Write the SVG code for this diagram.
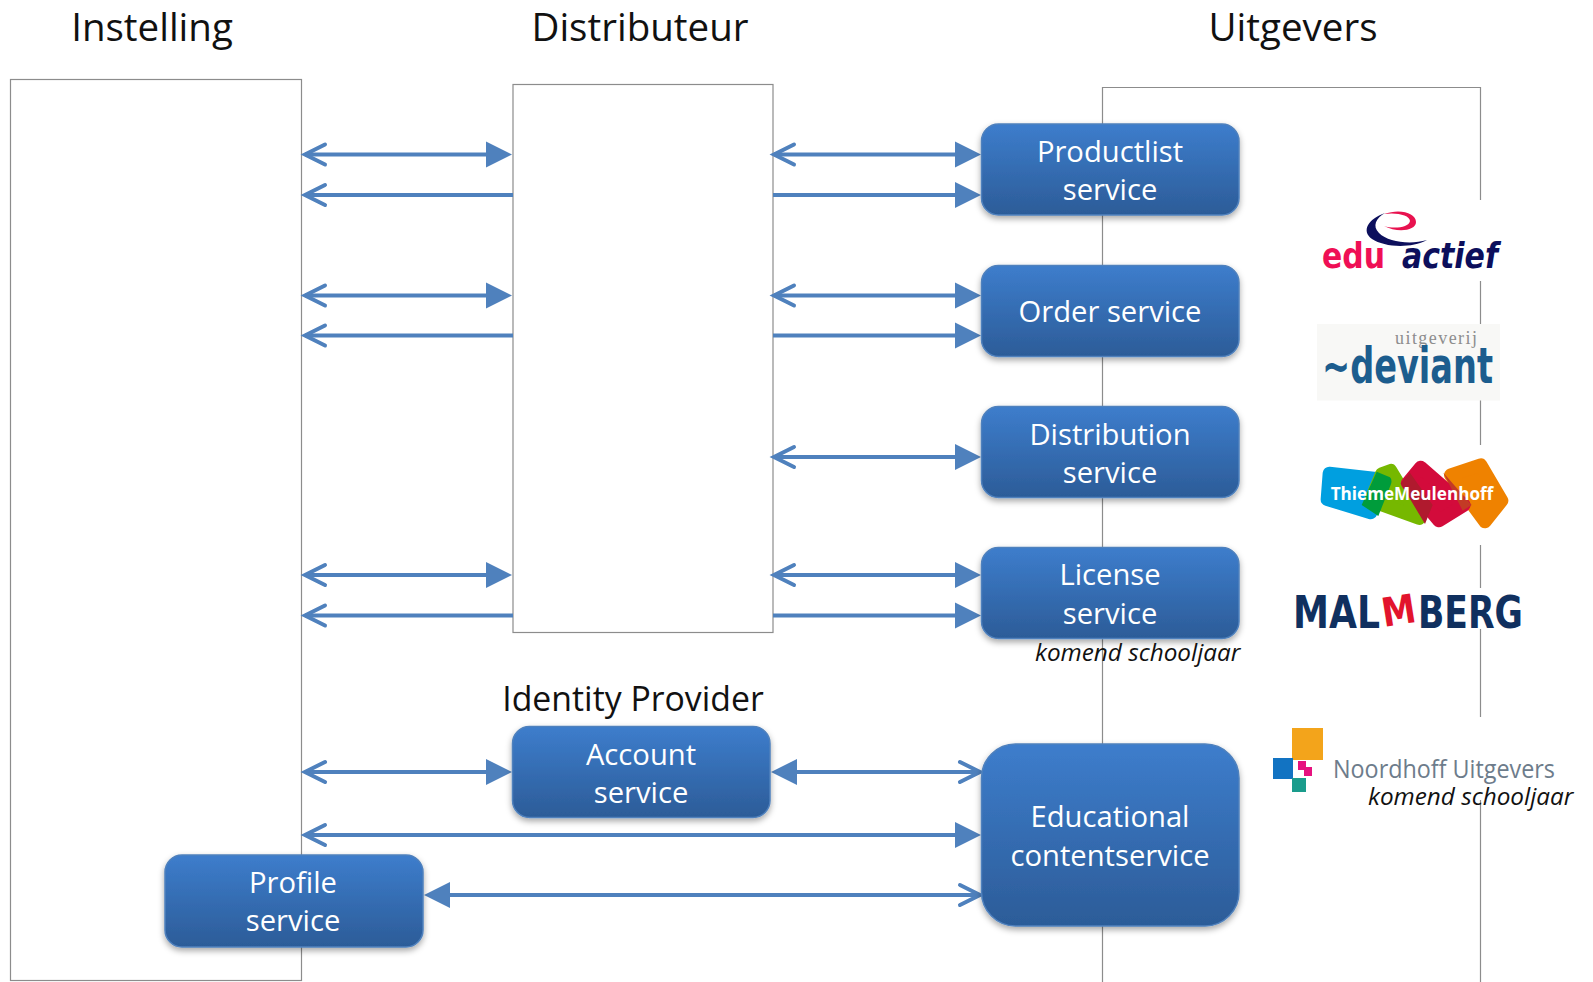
<svg xmlns="http://www.w3.org/2000/svg" width="1593" height="982" viewBox="0 0 1593 982">
<style>
.frame{fill:#fff;stroke:#8c8c8c;stroke-width:1.2}
.head{font-family:"Open Sans","Liberation Sans",sans-serif;font-size:38.500px;fill:#111;text-anchor:middle}
.box{fill:url(#boxGrad);stroke:#4f81bd;stroke-width:1.500;filter:url(#shadow)}
.lbl{font-family:"Open Sans","Liberation Sans",sans-serif;font-size:29.200px;fill:#fff;text-anchor:middle}
.note{font-family:"Open Sans","Liberation Sans",sans-serif;font-style:italic;font-size:24.300px;fill:#111}
.c{fill:none;stroke:#4f81bd;stroke-width:4}
.tt{marker-end:url(#tri)}
.oo{marker-end:url(#open)}
.ts{marker-start:url(#triS)}
.os{marker-start:url(#openS)}
</style>
<defs>
<linearGradient id="boxGrad" x1="0" y1="0" x2="0" y2="1"><stop offset="0" stop-color="#3d7dcc"/><stop offset="1" stop-color="#2c5c98"/></linearGradient>
<filter id="shadow" x="-10%" y="-10%" width="120%" height="125%"><feDropShadow dx="0" dy="3" stdDeviation="3" flood-color="#000" flood-opacity="0.35"/></filter>
<marker id="tri" markerUnits="userSpaceOnUse" markerWidth="30" markerHeight="30" refX="16" refY="13" orient="auto" overflow="visible"><path d="M0 0L26 13L0 26Z" fill="#4f81bd"/></marker>
<marker id="triS" markerUnits="userSpaceOnUse" markerWidth="30" markerHeight="30" refX="10" refY="13" orient="auto" overflow="visible"><path d="M26 0L0 13L26 26Z" fill="#4f81bd"/></marker>
<marker id="open" markerUnits="userSpaceOnUse" markerWidth="30" markerHeight="30" refX="21" refY="11" orient="auto" overflow="visible"><path d="M1 1L21 11L1 21" fill="none" stroke="#4f81bd" stroke-width="4" stroke-linecap="round"/></marker>
<marker id="openS" markerUnits="userSpaceOnUse" markerWidth="30" markerHeight="30" refX="1" refY="11" orient="auto" overflow="visible"><path d="M21 1L1 11L21 21" fill="none" stroke="#4f81bd" stroke-width="4" stroke-linecap="round"/></marker>
</defs>
<rect width="1593" height="982" fill="#fff"/>

<g id="instelling"><rect class="frame" x="10.500" y="79.500" width="291" height="901"/><text class="head" x="152" y="41">Instelling</text></g>
<g id="distributeur"><rect class="frame" x="513" y="84.500" width="260" height="548"/><text class="head" x="640" y="41">Distributeur</text></g>
<g id="uitgevers"><path class="frame" d="M1102.500 982V87.500H1480.500V982" style="fill:none"/><text class="head" x="1293" y="41">Uitgevers</text></g>

<g id="connectors">
<path class="c os tt" d="M305 154.500H502"/>
<path class="c os" d="M305 195H513"/>
<path class="c os tt" d="M305 295.500H502"/>
<path class="c os" d="M305 335.500H513"/>
<path class="c os tt" d="M305 575H502"/>
<path class="c os" d="M305 615.500H513"/>
<path class="c os tt" d="M774 154.500H971"/>
<path class="c tt" d="M773 195H971"/>
<path class="c os tt" d="M774 295.500H971"/>
<path class="c tt" d="M773 335.500H971"/>
<path class="c os tt" d="M774 457H971"/>
<path class="c os tt" d="M774 575H971"/>
<path class="c tt" d="M773 615.500H971"/>
<path class="c os tt" d="M305 772H502"/>
<path class="c ts oo" d="M781 772H980"/>
<path class="c os tt" d="M305 835H971"/>
<path class="c ts oo" d="M434 895H980"/>
</g>

<g id="productlist"><rect class="box" x="981.500" y="124" width="257.500" height="91" rx="17"/><text class="lbl" x="1110" y="162">Productlist</text><text class="lbl" x="1110" y="200">service</text></g>
<g id="order"><rect class="box" x="981.500" y="265.500" width="257.500" height="91" rx="17"/><text class="lbl" x="1110" y="322">Order service</text></g>
<g id="distribution"><rect class="box" x="981.500" y="406.500" width="257.500" height="91" rx="17"/><text class="lbl" x="1110" y="445">Distribution</text><text class="lbl" x="1110" y="483">service</text></g>
<g id="license"><rect class="box" x="981.500" y="547.500" width="257.500" height="91" rx="17"/><text class="lbl" x="1110" y="585">License</text><text class="lbl" x="1110" y="624">service</text></g>
<g id="account"><rect class="box" x="512.500" y="726.500" width="257.500" height="91" rx="17"/><text class="lbl" x="641" y="765">Account</text><text class="lbl" x="641" y="803">service</text></g>
<g id="educational"><rect class="box" x="981.500" y="744" width="257.500" height="182" rx="34"/><text class="lbl" x="1110" y="827">Educational</text><text class="lbl" x="1110" y="866">contentservice</text></g>
<g id="profile"><rect class="box" x="165" y="855" width="258" height="92" rx="17"/><text class="lbl" x="293" y="893">Profile</text><text class="lbl" x="293" y="931">service</text></g>

<text class="head" x="633" y="711" style="font-size:33.800px">Identity Provider</text>
<text class="note" x="1035" y="661">komend schooljaar</text>

<g id="logo-eduactief">
<rect x="1300" y="200" width="200" height="81" fill="#fff"/>
<path d="M1385 213C1368 219 1361 231 1372 239C1384 247 1410 249 1427 240C1410 245 1388 242 1379 233C1372 226 1376 218 1385 213Z" fill="#0c0f5c"/>
<path d="M1384 214C1400 208 1416 213 1416 222C1416 231 1397 233 1384 226C1393 229 1409 228 1410 221C1410 215 1396 212 1384 214Z" fill="#e8124f"/>
<text x="1322" y="268" font-family="DejaVu Sans,sans-serif" font-weight="700" font-size="35" fill="#ef0f55" textLength="63" lengthAdjust="spacingAndGlyphs">edu</text>
<text x="1402" y="268" font-family="DejaVu Sans,sans-serif" font-weight="700" font-style="italic" font-size="36" fill="#0c0f5c" textLength="96" lengthAdjust="spacingAndGlyphs">actief</text>
</g>
<g id="logo-deviant">
<rect x="1317" y="324" width="183" height="76.500" fill="#f8f8f6"/>
<text x="1395" y="344" font-family="Liberation Serif,serif" font-size="18" fill="#8d8d8d" textLength="82">uitgeverij</text>
<text x="1322" y="383" font-family="DejaVu Sans Condensed,DejaVu Sans,sans-serif" font-size="50" font-weight="700" fill="#1c5d8e" textLength="171" lengthAdjust="spacingAndGlyphs">~deviant</text>
</g>
<g id="logo-thiememeulenhoff">
<rect x="1310" y="445" width="205" height="100" fill="#fff"/>
<g transform="translate(1240 430) scale(.3333)">
<path d="M722 105L785 212L735 275L632 135Z" fill="#ef8200" stroke="#ef8200" stroke-width="40" stroke-linejoin="round"/>
<path d="M268 130L428 148L392 248L262 208Z" fill="#009fe0" stroke="#009fe0" stroke-width="40" stroke-linejoin="round"/>
<path d="M452 122L538 265L392 212L425 132Z" fill="#76b800" stroke="#76b800" stroke-width="40" stroke-linejoin="round"/>
<path d="M410 125L450 142Q458 150 452 165L415 258L365 225Z" fill="#009c3b"/>
<path d="M542 112L672 225L597 272L503 160Z" fill="#d30b3b" stroke="#d30b3b" stroke-width="40" stroke-linejoin="round"/>
<path d="M482 160L510 128L578 225L555 282Z" fill="#b01a2e"/>
<path d="M610 128L695 225L668 242Z" fill="#c33a25"/>
<text x="272" y="209" font-family="Open Sans,Liberation Sans,sans-serif" font-weight="700" font-size="53" fill="#fff" textLength="488" lengthAdjust="spacingAndGlyphs">ThiemeMeulenhoff</text>
</g>
</g>
<g id="logo-malmberg">
<rect x="1293" y="588" width="231" height="41" fill="#fff"/>
<text x="1293" y="628" font-family="DejaVu Sans,sans-serif" font-weight="700" font-size="44" fill="#10305f" textLength="87" lengthAdjust="spacingAndGlyphs">MAL</text>
<text transform="translate(1384 627) rotate(-9)" font-family="DejaVu Sans,sans-serif" font-weight="700" font-size="40" fill="#e2142d" textLength="34" lengthAdjust="spacingAndGlyphs">M</text>
<text x="1418" y="628" font-family="DejaVu Sans,sans-serif" font-weight="700" font-size="44" fill="#10305f" textLength="105" lengthAdjust="spacingAndGlyphs">BERG</text>
</g>
<g id="logo-noordhoff">
<rect x="1270" y="717" width="290" height="83" fill="#fff"/>
<rect x="1292" y="728" width="31" height="32" fill="#f3a41b"/>
<rect x="1273" y="758" width="20" height="21" fill="#1273c2"/>
<rect x="1292" y="778" width="14" height="14" fill="#1a9c8c"/>
<path d="M1298 761H1306V767H1312V776H1304V770H1298Z" fill="#e6127f"/>
<text x="1333" y="778" font-family="Open Sans,Liberation Sans,sans-serif" font-size="25" fill="#6d7c8b" textLength="222" lengthAdjust="spacingAndGlyphs">Noordhoff Uitgevers</text>
</g>
<text class="note" x="1368" y="805">komend schooljaar</text>
</svg>
